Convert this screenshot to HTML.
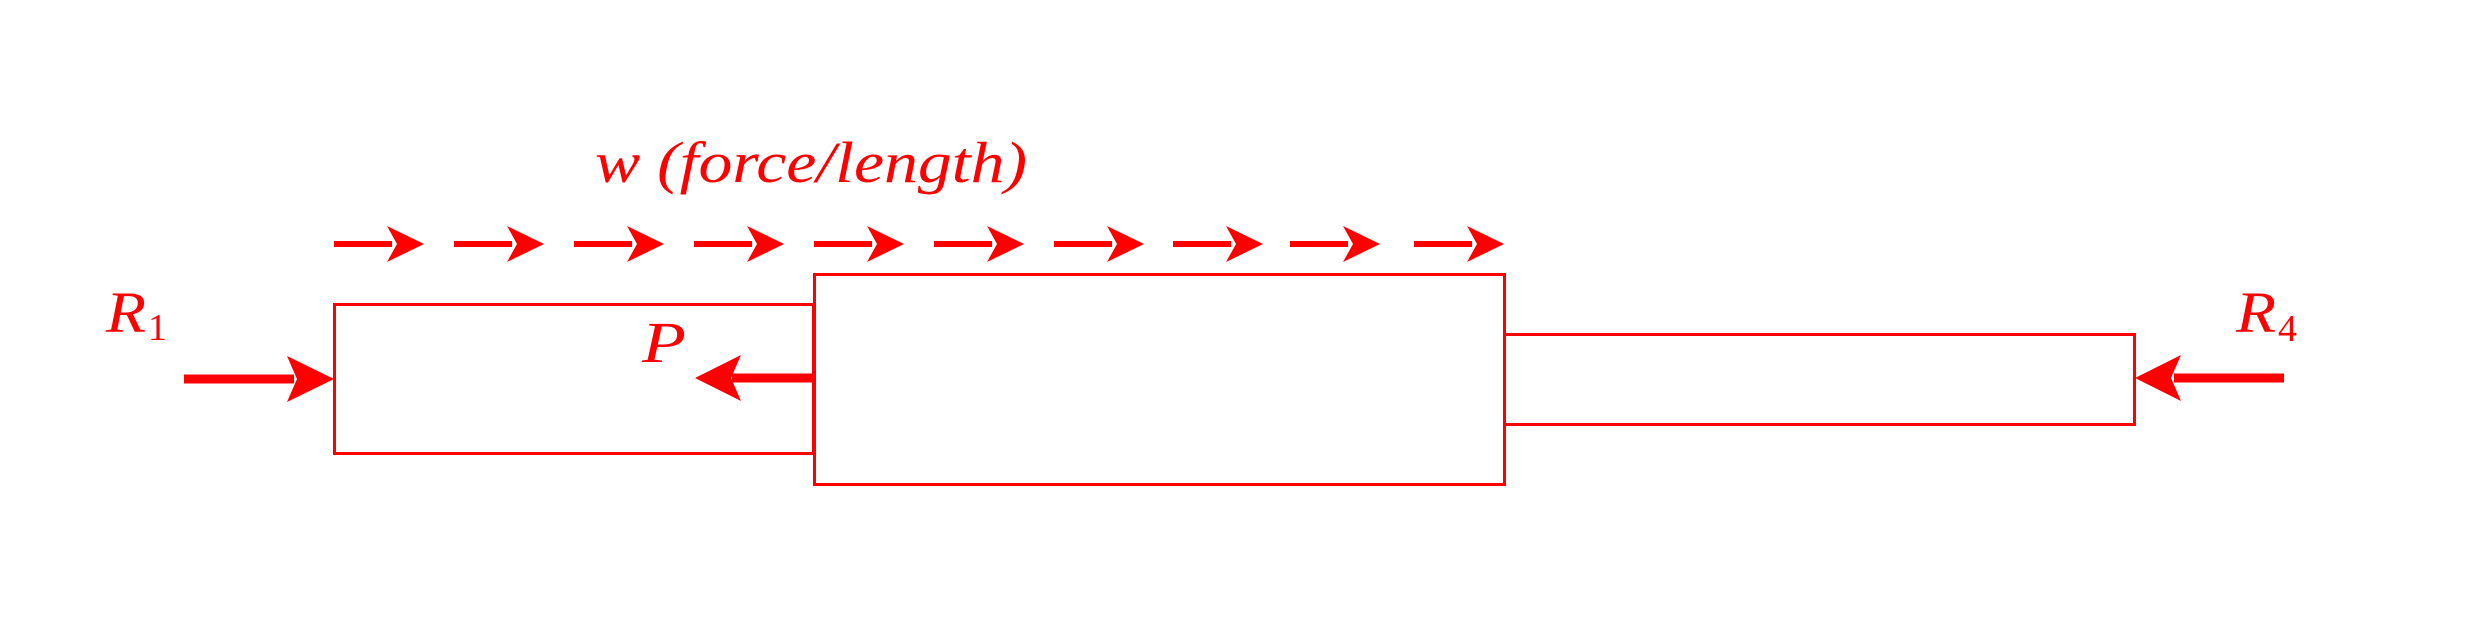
<!DOCTYPE html>
<html><head><meta charset="utf-8"><style>html,body{margin:0;padding:0;background:#fff}svg{display:block}</style></head>
<body>
<svg width="2466" height="636" viewBox="0 0 2466 636" xmlns="http://www.w3.org/2000/svg">
<g fill="none" stroke="#ff0000" stroke-width="3">
<rect x="334.5" y="304.5" width="479" height="149"/>
<rect x="814.5" y="274.5" width="690" height="210"/>
<rect x="1504.5" y="334.5" width="630" height="90"/>
</g>
<g fill="#ff0000">
<g id="a"><rect x="334" y="241" width="58" height="6"/><path d="M424 244 L387 226 L397 244 L387 262 Z"/></g>
<use href="#a" x="120"/>
<use href="#a" x="240"/>
<use href="#a" x="360"/>
<use href="#a" x="480"/>
<use href="#a" x="600"/>
<use href="#a" x="720"/>
<use href="#a" x="839"/>
<use href="#a" x="956"/>
<use href="#a" x="1080"/>
<rect x="184" y="374.5" width="110" height="9"/>
<path d="M334 379 L287 356 L297 379 L287 402 Z"/>
<rect x="732" y="373.5" width="82" height="9"/>
<path d="M695 378 L741 355 L731 378 L741 401 Z"/>
<rect x="2174" y="373.5" width="110" height="9"/>
<path d="M2135 378 L2181 355 L2171 378 L2181 401 Z"/>
</g>
<g fill="#ff0000" font-family="'Liberation Serif', serif" font-style="italic">
<text x="595" y="182" font-size="58" textLength="432" lengthAdjust="spacingAndGlyphs">w (force/length)</text>
<text x="106" y="332" font-size="58" textLength="40" lengthAdjust="spacingAndGlyphs">R</text>
<text x="148" y="340" font-size="38" font-style="normal">1</text>
<text x="642" y="362" font-size="58" textLength="44" lengthAdjust="spacingAndGlyphs">P</text>
<text x="2236" y="332" font-size="58" textLength="40" lengthAdjust="spacingAndGlyphs">R</text>
<text x="2278" y="341" font-size="38" font-style="normal">4</text>
</g>
</svg>
</body></html>
